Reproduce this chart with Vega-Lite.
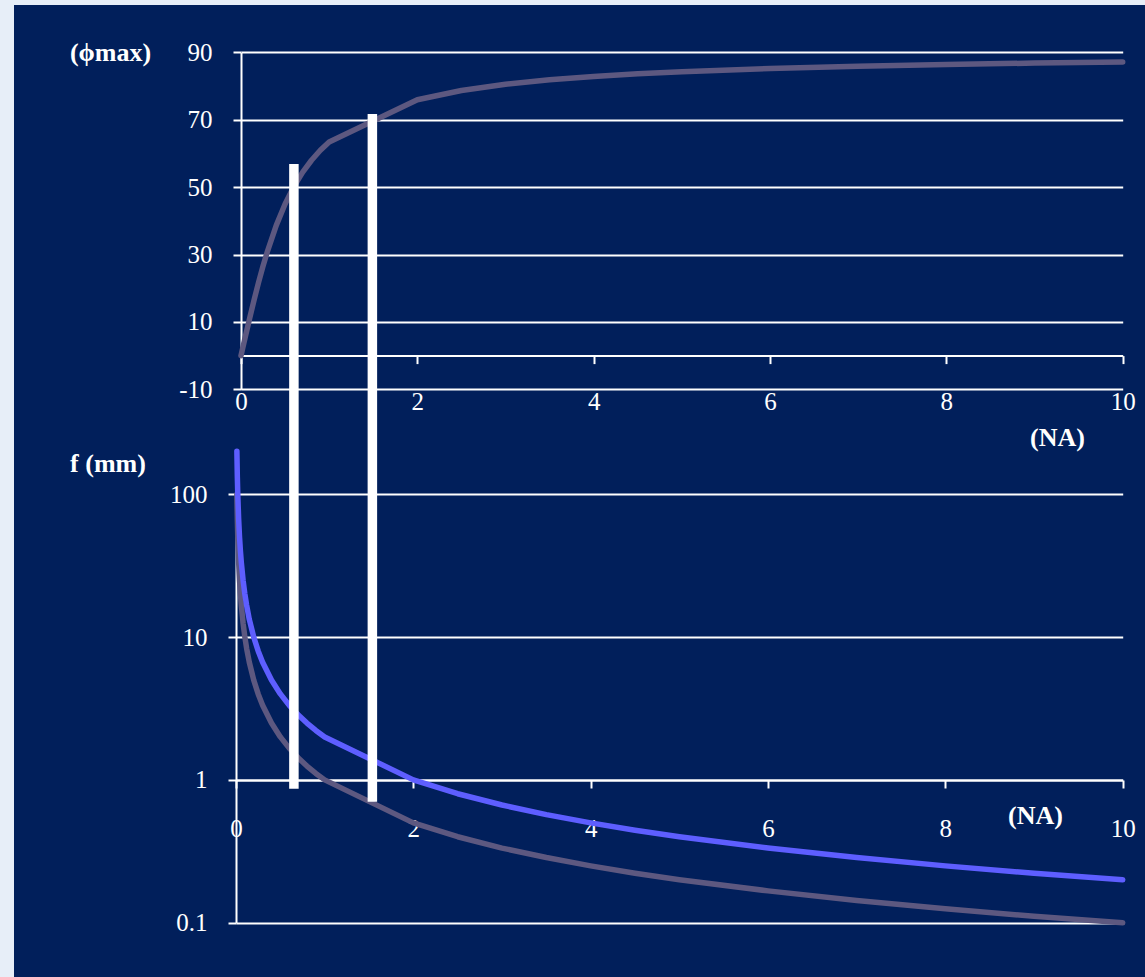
{
  "$schema": "https://vega.github.io/schema/vega-lite/v6.json",
  "width": 1131,
  "height": 972,
  "autosize": {"type": "none"},
  "padding": {"left": 14, "top": 5, "right": 0, "bottom": 0},
  "background": "#E7EEF8",
  "config": {
    "view": {"fill": "#011F5B", "stroke": null},
    "axis": {
      "labelFont": "Liberation Serif",
      "labelFontSize": 25,
      "labelColor": "#FFFFFF",
      "titleFont": "Liberation Serif",
      "titleFontSize": 26,
      "titleFontWeight": "bold",
      "titleColor": "#FFFFFF",
      "domainColor": "#FFFFFF",
      "domainWidth": 2,
      "tickColor": "#FFFFFF",
      "tickWidth": 2,
      "tickSize": 8,
      "gridColor": "#FFFFFF",
      "gridWidth": 2,
      "gridOpacity": 1,
      "labelFlush": false,
      "labelOverlap": false,
      "zindex": 0
    }
  },
  "datasets": {
    "phi": [
      {"na": 0, "phi": 0},
      {"na": 0.02, "phi": 2.29},
      {"na": 0.05, "phi": 5.71},
      {"na": 0.1, "phi": 11.31},
      {"na": 0.15, "phi": 16.7},
      {"na": 0.2, "phi": 21.8},
      {"na": 0.25, "phi": 26.57},
      {"na": 0.3, "phi": 30.96},
      {"na": 0.4, "phi": 38.66},
      {"na": 0.5, "phi": 45.0},
      {"na": 0.6, "phi": 50.19},
      {"na": 0.7, "phi": 54.46},
      {"na": 0.8, "phi": 57.99},
      {"na": 0.9, "phi": 60.95},
      {"na": 1, "phi": 63.43},
      {"na": 2, "phi": 75.96},
      {"na": 2.5, "phi": 78.69},
      {"na": 3, "phi": 80.54},
      {"na": 3.5, "phi": 81.87},
      {"na": 4, "phi": 82.87},
      {"na": 4.5, "phi": 83.66},
      {"na": 5, "phi": 84.29},
      {"na": 6, "phi": 85.24},
      {"na": 7, "phi": 85.91},
      {"na": 8, "phi": 86.42},
      {"na": 9, "phi": 86.82},
      {"na": 10, "phi": 87.14}
    ],
    "focal": [
      {"na": 0.01, "f_gray": 100, "f_blue": 200},
      {"na": 0.015, "f_gray": 66.7, "f_blue": 133},
      {"na": 0.02, "f_gray": 50, "f_blue": 100},
      {"na": 0.03, "f_gray": 33.3, "f_blue": 66.7},
      {"na": 0.04, "f_gray": 25, "f_blue": 50},
      {"na": 0.05, "f_gray": 20, "f_blue": 40},
      {"na": 0.06, "f_gray": 16.7, "f_blue": 33.3},
      {"na": 0.08, "f_gray": 12.5, "f_blue": 25},
      {"na": 0.1, "f_gray": 10, "f_blue": 20},
      {"na": 0.12, "f_gray": 8.33, "f_blue": 16.7},
      {"na": 0.15, "f_gray": 6.67, "f_blue": 13.3},
      {"na": 0.2, "f_gray": 5, "f_blue": 10},
      {"na": 0.25, "f_gray": 4, "f_blue": 8},
      {"na": 0.3, "f_gray": 3.33, "f_blue": 6.67},
      {"na": 0.4, "f_gray": 2.5, "f_blue": 5},
      {"na": 0.5, "f_gray": 2, "f_blue": 4},
      {"na": 0.6, "f_gray": 1.67, "f_blue": 3.33},
      {"na": 0.7, "f_gray": 1.43, "f_blue": 2.86},
      {"na": 0.8, "f_gray": 1.25, "f_blue": 2.5},
      {"na": 0.9, "f_gray": 1.11, "f_blue": 2.22},
      {"na": 1, "f_gray": 1, "f_blue": 2},
      {"na": 2, "f_gray": 0.5, "f_blue": 1},
      {"na": 2.5, "f_gray": 0.4, "f_blue": 0.8},
      {"na": 3, "f_gray": 0.333, "f_blue": 0.667},
      {"na": 3.5, "f_gray": 0.286, "f_blue": 0.571},
      {"na": 4, "f_gray": 0.25, "f_blue": 0.5},
      {"na": 4.5, "f_gray": 0.222, "f_blue": 0.444},
      {"na": 5, "f_gray": 0.2, "f_blue": 0.4},
      {"na": 6, "f_gray": 0.167, "f_blue": 0.333},
      {"na": 7, "f_gray": 0.143, "f_blue": 0.286},
      {"na": 8, "f_gray": 0.125, "f_blue": 0.25},
      {"na": 9, "f_gray": 0.111, "f_blue": 0.222},
      {"na": 10, "f_gray": 0.1, "f_blue": 0.2}
    ],
    "bars": [
      {"na": 0.6, "top": 56.9, "bottom": -128.6},
      {"na": 1.49, "top": 71.7, "bottom": -132.4}
    ]
  },
  "layer": [
    {
      "data": {"name": "phi"},
      "mark": {"type": "line", "color": "#5D5880", "strokeWidth": 5.5, "strokeCap": "round", "strokeJoin": "round"},
      "encoding": {
        "x": {
          "field": "na", "type": "quantitative",
          "scale": {"domain": [0, 10], "range": [227, 1108.7], "nice": false, "zero": false},
          "axis": {
            "orient": "bottom", "offset": -621.4,
            "values": [0, 2, 4, 6, 8, 10],
            "labelExpr": "'' + datum.value",
            "labelPadding": 37.5, "labelBaseline": "middle",
            "grid": false,
            "title": "(NA)", "titleX": 1043, "titleY": 81.4,
            "titleAlign": "center", "titleBaseline": "middle", "titleAngle": 0
          }
        },
        "y": {
          "field": "phi", "type": "quantitative",
          "scale": {"domain": [-10, 90], "range": [384.3, 47.4], "nice": false, "zero": false},
          "axis": {
            "orient": "left", "offset": -227,
            "values": [-10, 10, 30, 50, 70, 90],
            "labelExpr": "'' + datum.value",
            "labelPadding": 21, "labelBaseline": "middle",
            "grid": true,
            "title": "(ϕmax)", "titleAngle": 0, "titleX": -131, "titleY": 47.4,
            "titleAlign": "center", "titleBaseline": "middle"
          }
        }
      }
    },
    {
      "data": {"name": "focal"},
      "mark": {"type": "line", "color": "#5D5880", "strokeWidth": 5.5, "strokeCap": "round", "strokeJoin": "round"},
      "encoding": {
        "x": {
          "field": "na", "type": "quantitative",
          "scale": {"domain": [0, 10], "range": [222, 1108.7], "nice": false, "zero": false},
          "axis": {
            "orient": "bottom", "offset": -197,
            "values": [0, 2, 4, 6, 8, 10],
            "labelExpr": "'' + datum.value",
            "labelPadding": 40, "labelBaseline": "middle",
            "grid": false,
            "title": "(NA)", "titleX": 1021, "titleY": 35,
            "titleAlign": "center", "titleBaseline": "middle", "titleAngle": 0
          }
        },
        "y": {
          "field": "f_gray", "type": "quantitative",
          "scale": {"type": "log", "domain": [0.1, 100], "range": [917.7, 489.3], "nice": false},
          "axis": {
            "orient": "left", "offset": -222,
            "values": [0.1, 1, 10, 100],
            "labelExpr": "'' + datum.value",
            "labelPadding": 21, "labelBaseline": "middle",
            "grid": true,
            "title": "f (mm)", "titleAngle": 0, "titleX": -128.5, "titleY": 458,
            "titleAlign": "center", "titleBaseline": "middle"
          }
        }
      }
    },
    {
      "data": {"name": "focal"},
      "mark": {"type": "line", "color": "#5E5EFF", "strokeWidth": 5.5, "strokeCap": "round", "strokeJoin": "round"},
      "encoding": {
        "x": {
          "field": "na", "type": "quantitative",
          "scale": {"domain": [0, 10], "range": [222, 1108.7], "nice": false, "zero": false},
          "axis": null
        },
        "y": {
          "field": "f_blue", "type": "quantitative",
          "scale": {"type": "log", "domain": [0.1, 100], "range": [917.7, 489.3], "nice": false},
          "axis": null
        }
      }
    },
    {
      "data": {"name": "bars"},
      "mark": {"type": "rule", "color": "#FFFFFF", "strokeWidth": 9.5, "strokeCap": "butt"},
      "encoding": {
        "x": {
          "field": "na", "type": "quantitative",
          "scale": {"domain": [0, 10], "range": [227, 1108.7], "nice": false, "zero": false},
          "axis": null
        },
        "y": {
          "field": "top", "type": "quantitative",
          "scale": {"domain": [-10, 90], "range": [384.3, 47.4], "nice": false, "zero": false},
          "axis": null
        },
        "y2": {"field": "bottom"}
      }
    }
  ],
  "resolve": {
    "scale": {"x": "independent", "y": "independent"},
    "axis": {"x": "independent", "y": "independent"}
  }
}
